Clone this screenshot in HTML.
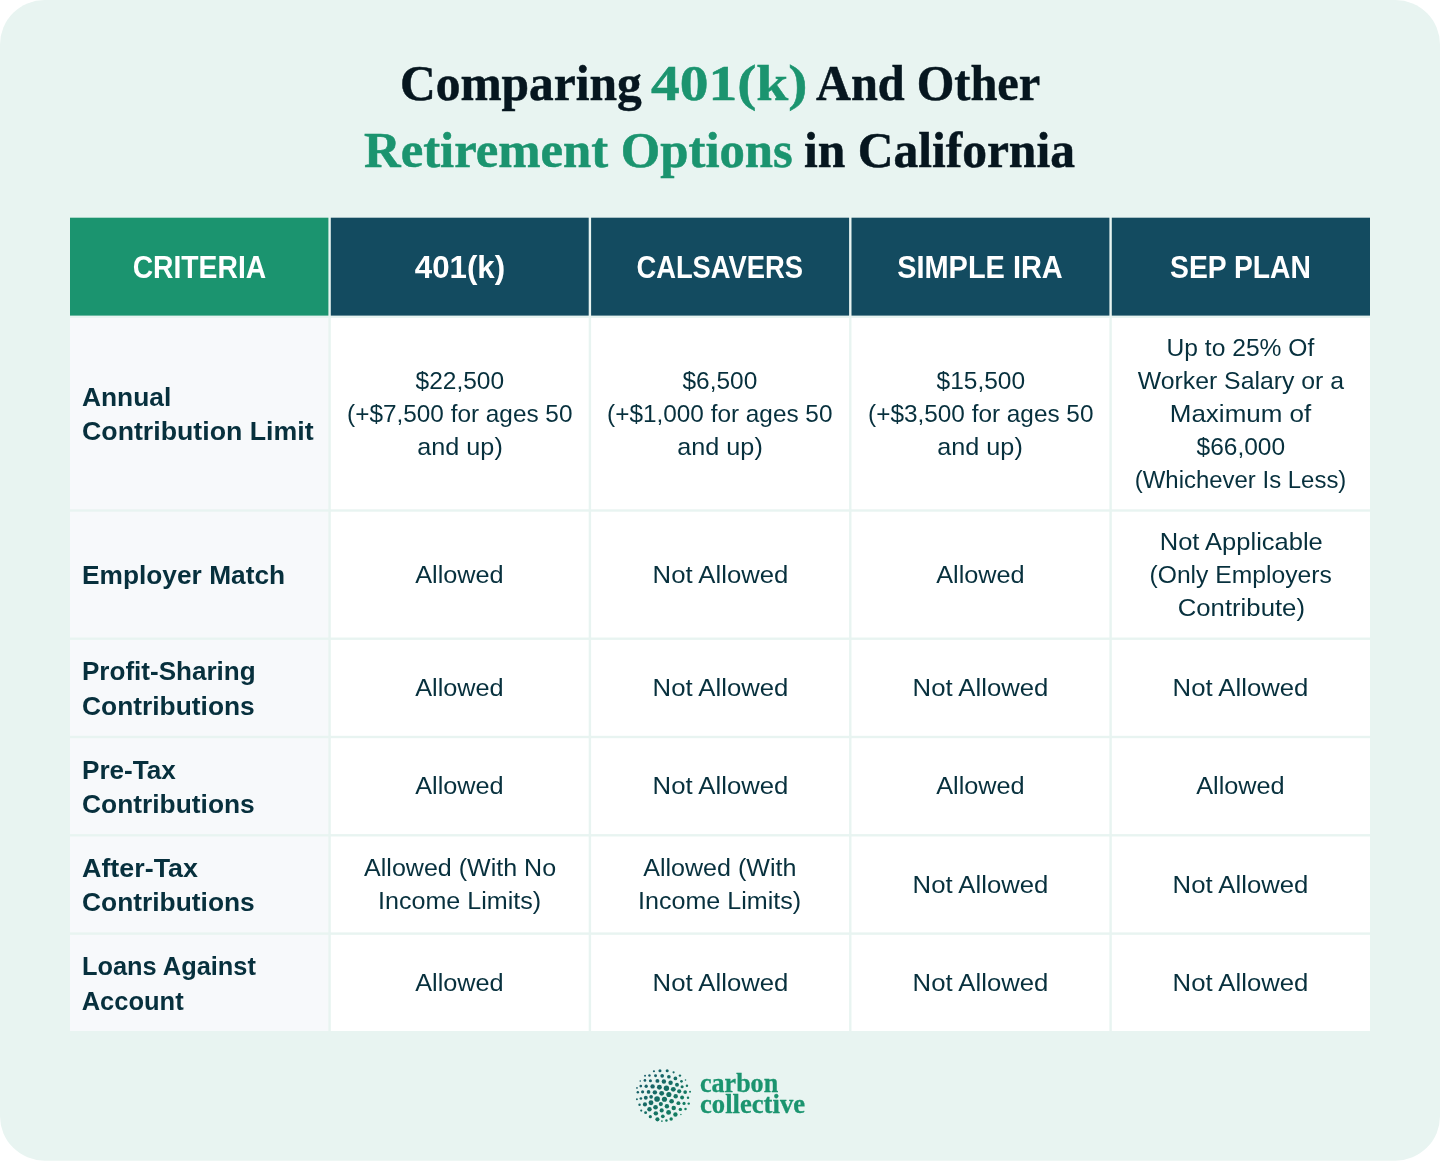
<!DOCTYPE html>
<html lang="en"><head><meta charset="utf-8">
<title>Comparing 401(k) And Other Retirement Options in California</title>
<style>
html,body{margin:0;padding:0;background:#fff}
body{width:1440px;height:1163px;overflow:hidden;position:relative;font-family:"Liberation Sans","DejaVu Sans",sans-serif}
.card{position:absolute;left:0;top:0;width:1440px;height:1163px;overflow:hidden}
svg.bg{position:absolute;left:0;top:0}
h1{position:absolute;left:0;top:0;width:1440px;margin:0;font-family:"Liberation Serif","DejaVu Serif",serif;font-weight:700;font-size:51px;color:#06161f;text-align:center;white-space:nowrap;-webkit-text-stroke:0.5px}
h1 .l{position:absolute;left:0;width:1440px;line-height:60px;height:60px;display:block;text-align:left}
h1 .g{color:#1b946f}
.cell{position:absolute;display:flex;flex-direction:column;justify-content:center;box-sizing:border-box}
.cell span,.logo span{display:block;position:relative;transform-origin:50% 50%}
h1 .s{position:absolute;top:0;display:block;transform-origin:0 50%;white-space:nowrap}
.th{color:#fff;font-weight:700;font-size:31.1px;line-height:40px;text-align:center;align-items:center;padding-top:3.3px}
.td{color:#07303d;font-size:24.8px;line-height:33px;text-align:center;align-items:center;white-space:nowrap;padding-top:0px}
.rh{color:#07303d;font-weight:700;font-size:25.5px;line-height:34.3px;padding-left:11.7px;padding-top:2.3px;white-space:nowrap;align-items:flex-start}
.rh span{transform-origin:0 50%}
.td span{top:-0.3px}
.th span{top:0px}
.rh span{top:-0.4px}
.logo{position:absolute;left:699.8px;top:1072.9px;font-family:"Liberation Serif","DejaVu Serif",serif;font-weight:700;font-size:27.5px;line-height:20.8px;color:#1b946f;white-space:nowrap;-webkit-text-stroke:0.3px}
.logo span{transform-origin:0 50%;width:max-content}
</style></head><body>
<div class="card">
<svg class="bg" width="1440" height="1163" viewBox="0 0 1440 1163">

<rect x="0" y="0" width="1440" height="1160.64" rx="44.5" ry="44.5" fill="#e8f4f1"/>
<rect x="70" y="217.7" width="258.4" height="97.9" fill="#1b946f"/>
<rect x="330.8" y="217.7" width="257.9" height="97.9" fill="#134b60"/>
<rect x="591.1" y="217.7" width="258" height="97.9" fill="#134b60"/>
<rect x="851.5" y="217.7" width="257.9" height="97.9" fill="#134b60"/>
<rect x="1111.8" y="217.7" width="258.2" height="97.9" fill="#134b60"/>
<rect x="70" y="318" width="258.4" height="191.3" fill="#f7f9fb"/>
<rect x="330.8" y="318" width="257.9" height="191.3" fill="#ffffff"/>
<rect x="591.1" y="318" width="258" height="191.3" fill="#ffffff"/>
<rect x="851.5" y="318" width="257.9" height="191.3" fill="#ffffff"/>
<rect x="1111.8" y="318" width="258.2" height="191.3" fill="#ffffff"/>
<rect x="70" y="511.7" width="258.4" height="125.8" fill="#f7f9fb"/>
<rect x="330.8" y="511.7" width="257.9" height="125.8" fill="#ffffff"/>
<rect x="591.1" y="511.7" width="258" height="125.8" fill="#ffffff"/>
<rect x="851.5" y="511.7" width="257.9" height="125.8" fill="#ffffff"/>
<rect x="1111.8" y="511.7" width="258.2" height="125.8" fill="#ffffff"/>
<rect x="70" y="639.9" width="258.4" height="95.9" fill="#f7f9fb"/>
<rect x="330.8" y="639.9" width="257.9" height="95.9" fill="#ffffff"/>
<rect x="591.1" y="639.9" width="258" height="95.9" fill="#ffffff"/>
<rect x="851.5" y="639.9" width="257.9" height="95.9" fill="#ffffff"/>
<rect x="1111.8" y="639.9" width="258.2" height="95.9" fill="#ffffff"/>
<rect x="70" y="738.2" width="258.4" height="95.9" fill="#f7f9fb"/>
<rect x="330.8" y="738.2" width="257.9" height="95.9" fill="#ffffff"/>
<rect x="591.1" y="738.2" width="258" height="95.9" fill="#ffffff"/>
<rect x="851.5" y="738.2" width="257.9" height="95.9" fill="#ffffff"/>
<rect x="1111.8" y="738.2" width="258.2" height="95.9" fill="#ffffff"/>
<rect x="70" y="836.5" width="258.4" height="95.9" fill="#f7f9fb"/>
<rect x="330.8" y="836.5" width="257.9" height="95.9" fill="#ffffff"/>
<rect x="591.1" y="836.5" width="258" height="95.9" fill="#ffffff"/>
<rect x="851.5" y="836.5" width="257.9" height="95.9" fill="#ffffff"/>
<rect x="1111.8" y="836.5" width="258.2" height="95.9" fill="#ffffff"/>
<rect x="70" y="934.8" width="258.4" height="96.2" fill="#f7f9fb"/>
<rect x="330.8" y="934.8" width="257.9" height="96.2" fill="#ffffff"/>
<rect x="591.1" y="934.8" width="258" height="96.2" fill="#ffffff"/>
<rect x="851.5" y="934.8" width="257.9" height="96.2" fill="#ffffff"/>
<rect x="1111.8" y="934.8" width="258.2" height="96.2" fill="#ffffff"/>
<defs><linearGradient id="lg" gradientUnits="userSpaceOnUse" x1="640" y1="1072" x2="688" y2="1118"><stop offset="0" stop-color="#19586a"/><stop offset="1" stop-color="#12855f"/></linearGradient></defs><g fill="url(#lg)"><circle cx="653.95" cy="1071.25" r="1.1"/>
<circle cx="659.97" cy="1070.68" r="1.53"/>
<circle cx="667.18" cy="1070.68" r="1.53"/>
<circle cx="673.59" cy="1072.33" r="1.1"/>
<circle cx="645.04" cy="1075.79" r="0.98"/>
<circle cx="649.47" cy="1075.51" r="1.23"/>
<circle cx="655.54" cy="1075.79" r="1.47"/>
<circle cx="662.18" cy="1075.79" r="1.84"/>
<circle cx="668.88" cy="1076.76" r="1.84"/>
<circle cx="675.41" cy="1078.46" r="1.84"/>
<circle cx="679.95" cy="1075.62" r="1.23"/>
<circle cx="640.22" cy="1081.02" r="0.8"/>
<circle cx="644.93" cy="1080.45" r="1.35"/>
<circle cx="650.43" cy="1080.73" r="1.53"/>
<circle cx="657.42" cy="1080.9" r="1.96"/>
<circle cx="663.89" cy="1081.58" r="2.21"/>
<circle cx="670.58" cy="1082.72" r="2.21"/>
<circle cx="677" cy="1084.7" r="1.96"/>
<circle cx="681.48" cy="1081.3" r="1.35"/>
<circle cx="685.51" cy="1080.05" r="0.8"/>
<circle cx="636.98" cy="1087.94" r="0.86"/>
<circle cx="640.78" cy="1086.12" r="1.35"/>
<circle cx="646.18" cy="1086.24" r="1.66"/>
<circle cx="652.59" cy="1086.41" r="2.21"/>
<circle cx="659.4" cy="1087.26" r="2.45"/>
<circle cx="666.44" cy="1088.22" r="2.7"/>
<circle cx="673.31" cy="1089.36" r="2.45"/>
<circle cx="682.11" cy="1086.69" r="1.53"/>
<circle cx="686.93" cy="1085.84" r="1.23"/>
<circle cx="637.83" cy="1092.25" r="1.23"/>
<circle cx="642.6" cy="1091.8" r="1.59"/>
<circle cx="648.56" cy="1091.91" r="1.84"/>
<circle cx="654.86" cy="1092.37" r="2.21"/>
<circle cx="661.67" cy="1093.33" r="2.45"/>
<circle cx="668.88" cy="1094.47" r="2.57"/>
<circle cx="679.21" cy="1091.35" r="2.08"/>
<circle cx="685.17" cy="1092.08" r="1.84"/>
<circle cx="690.05" cy="1091.8" r="0.98"/>
<circle cx="636.92" cy="1099.35" r="0.98"/>
<circle cx="640.9" cy="1098.5" r="1.35"/>
<circle cx="645.78" cy="1097.76" r="1.96"/>
<circle cx="651.12" cy="1096.79" r="1.84"/>
<circle cx="657.08" cy="1099.01" r="2.82"/>
<circle cx="664.45" cy="1099.29" r="2.57"/>
<circle cx="675.69" cy="1096.23" r="2.21"/>
<circle cx="682.11" cy="1097.48" r="1.96"/>
<circle cx="688.01" cy="1097.76" r="1.23"/>
<circle cx="639.54" cy="1104.68" r="1.23"/>
<circle cx="644.93" cy="1104.4" r="2.08"/>
<circle cx="651" cy="1102.75" r="2.45"/>
<circle cx="660.82" cy="1104.12" r="2.08"/>
<circle cx="671.61" cy="1101.28" r="2.33"/>
<circle cx="678.42" cy="1103.15" r="1.96"/>
<circle cx="684.04" cy="1103.44" r="1.59"/>
<circle cx="688.75" cy="1103.61" r="1.23"/>
<circle cx="641.24" cy="1110.53" r="1.1"/>
<circle cx="649.47" cy="1109.23" r="2.21"/>
<circle cx="655.54" cy="1107.24" r="2.33"/>
<circle cx="661.67" cy="1110.42" r="2.08"/>
<circle cx="666.89" cy="1106.27" r="2.21"/>
<circle cx="673.71" cy="1107.98" r="2.21"/>
<circle cx="680.35" cy="1109.4" r="1.72"/>
<circle cx="685.51" cy="1108.94" r="1.23"/>
<circle cx="645.61" cy="1112.63" r="1.47"/>
<circle cx="655.83" cy="1113.37" r="2.21"/>
<circle cx="668.6" cy="1112.4" r="2.45"/>
<circle cx="675.41" cy="1114.5" r="2.21"/>
<circle cx="680.91" cy="1114.39" r="0.74"/>
<circle cx="650.32" cy="1116.66" r="1.59"/>
<circle cx="662.81" cy="1116.32" r="1.84"/>
<circle cx="657.42" cy="1119.33" r="2.08"/>
<circle cx="671.15" cy="1119.05" r="1.72"/>
<circle cx="666.44" cy="1120.46" r="1.23"/>
<circle cx="661.9" cy="1121.03" r="0.86"/></g>
</svg>
<h1><span class="l" style="top:52.7px"><span class="s" style="left:400.05px;transform:scaleX(0.9694)">Comparing</span> <span class="s g" style="left:650.94px;transform:scaleX(1.1270)">401(k)</span> <span class="s" style="left:816.19px;transform:scaleX(0.9479)">And Other</span></span><span class="l" style="top:119.6px"><span class="s g" style="left:364.4px;transform:scaleX(0.9947)">Retirement Options</span> <span class="s" style="left:804px;transform:scaleX(0.9706)">in California</span></span></h1>
<div class="cell th" style="left:70px;top:217.7px;width:258.4px;height:97.9px"><span style="transform:scaleX(0.9089)">CRITERIA</span></div>
<div class="cell th" style="left:330.8px;top:217.7px;width:257.9px;height:97.9px"><span style="transform:scaleX(1.0057)">401(k)</span></div>
<div class="cell th" style="left:591.1px;top:217.7px;width:258px;height:97.9px"><span style="transform:scaleX(0.8794)">CALSAVERS</span></div>
<div class="cell th" style="left:851.5px;top:217.7px;width:257.9px;height:97.9px"><span style="transform:scaleX(0.9304)">SIMPLE IRA</span></div>
<div class="cell th" style="left:1111.8px;top:217.7px;width:258.2px;height:97.9px"><span style="transform:scaleX(0.9090)">SEP PLAN</span></div>
<div class="cell rh" style="left:70px;top:318px;width:258.4px;height:191.3px"><span style="transform:scaleX(1.0331)">Annual</span> <span style="transform:scaleX(1.0482)">Contribution Limit</span></div>
<div class="cell td" style="left:330.8px;top:318px;width:257.9px;height:191.3px"><span style="transform:scaleX(0.9878)">$22,500</span> <span style="transform:scaleX(0.9818)">(+$7,500 for ages 50</span> <span style="transform:scaleX(1.0160)">and up)</span></div>
<div class="cell td" style="left:591.1px;top:318px;width:258px;height:191.3px"><span style="transform:scaleX(0.9866)">$6,500</span> <span style="transform:scaleX(0.9818)">(+$1,000 for ages 50</span> <span style="transform:scaleX(1.0160)">and up)</span></div>
<div class="cell td" style="left:851.5px;top:318px;width:257.9px;height:191.3px"><span style="transform:scaleX(0.9878)">$15,500</span> <span style="transform:scaleX(0.9818)">(+$3,500 for ages 50</span> <span style="transform:scaleX(1.0160)">and up)</span></div>
<div class="cell td" style="left:1111.8px;top:318px;width:258.2px;height:191.3px"><span style="transform:scaleX(0.9936)">Up to 25% Of</span> <span>Worker Salary or a</span> <span style="transform:scaleX(1.0476)">Maximum of</span> <span style="transform:scaleX(0.9878)">$66,000</span> <span style="transform:scaleX(0.9656)">(Whichever Is Less)</span></div>
<div class="cell rh" style="left:70px;top:511.7px;width:258.4px;height:125.8px"><span style="transform:scaleX(1.0313)">Employer Match</span></div>
<div class="cell td" style="left:330.8px;top:511.7px;width:257.9px;height:125.8px"><span style="transform:scaleX(1.0191)">Allowed</span></div>
<div class="cell td" style="left:591.1px;top:511.7px;width:258px;height:125.8px"><span style="transform:scaleX(1.0370)">Not Allowed</span></div>
<div class="cell td" style="left:851.5px;top:511.7px;width:257.9px;height:125.8px"><span style="transform:scaleX(1.0191)">Allowed</span></div>
<div class="cell td" style="left:1111.8px;top:511.7px;width:258.2px;height:125.8px"><span style="transform:scaleX(1.0283)">Not Applicable</span> <span style="transform:scaleX(0.9945)">(Only Employers</span> <span style="transform:scaleX(1.0371)">Contribute)</span></div>
<div class="cell rh" style="left:70px;top:639.9px;width:258.4px;height:95.9px"><span style="transform:scaleX(1.0210)">Profit-Sharing</span> <span style="transform:scaleX(1.0336)">Contributions</span></div>
<div class="cell td" style="left:330.8px;top:639.9px;width:257.9px;height:95.9px"><span style="transform:scaleX(1.0191)">Allowed</span></div>
<div class="cell td" style="left:591.1px;top:639.9px;width:258px;height:95.9px"><span style="transform:scaleX(1.0370)">Not Allowed</span></div>
<div class="cell td" style="left:851.5px;top:639.9px;width:257.9px;height:95.9px"><span style="transform:scaleX(1.0370)">Not Allowed</span></div>
<div class="cell td" style="left:1111.8px;top:639.9px;width:258.2px;height:95.9px"><span style="transform:scaleX(1.0370)">Not Allowed</span></div>
<div class="cell rh" style="left:70px;top:738.2px;width:258.4px;height:95.9px"><span style="transform:scaleX(1.0245)">Pre-Tax</span> <span style="transform:scaleX(1.0336)">Contributions</span></div>
<div class="cell td" style="left:330.8px;top:738.2px;width:257.9px;height:95.9px"><span style="transform:scaleX(1.0191)">Allowed</span></div>
<div class="cell td" style="left:591.1px;top:738.2px;width:258px;height:95.9px"><span style="transform:scaleX(1.0370)">Not Allowed</span></div>
<div class="cell td" style="left:851.5px;top:738.2px;width:257.9px;height:95.9px"><span style="transform:scaleX(1.0191)">Allowed</span></div>
<div class="cell td" style="left:1111.8px;top:738.2px;width:258.2px;height:95.9px"><span style="transform:scaleX(1.0191)">Allowed</span></div>
<div class="cell rh" style="left:70px;top:836.5px;width:258.4px;height:95.9px"><span style="transform:scaleX(1.0540)">After-Tax</span> <span style="transform:scaleX(1.0336)">Contributions</span></div>
<div class="cell td" style="left:330.8px;top:836.5px;width:257.9px;height:95.9px"><span style="transform:scaleX(1.0099)">Allowed (With No</span> <span style="transform:scaleX(1.0124)">Income Limits)</span></div>
<div class="cell td" style="left:591.1px;top:836.5px;width:258px;height:95.9px"><span style="transform:scaleX(1.0112)">Allowed (With</span> <span style="transform:scaleX(1.0124)">Income Limits)</span></div>
<div class="cell td" style="left:851.5px;top:836.5px;width:257.9px;height:95.9px"><span style="transform:scaleX(1.0370)">Not Allowed</span></div>
<div class="cell td" style="left:1111.8px;top:836.5px;width:258.2px;height:95.9px"><span style="transform:scaleX(1.0370)">Not Allowed</span></div>
<div class="cell rh" style="left:70px;top:934.8px;width:258.4px;height:96.2px"><span style="transform:scaleX(0.9950)">Loans Against</span> <span>Account</span></div>
<div class="cell td" style="left:330.8px;top:934.8px;width:257.9px;height:96.2px"><span style="transform:scaleX(1.0191)">Allowed</span></div>
<div class="cell td" style="left:591.1px;top:934.8px;width:258px;height:96.2px"><span style="transform:scaleX(1.0370)">Not Allowed</span></div>
<div class="cell td" style="left:851.5px;top:934.8px;width:257.9px;height:96.2px"><span style="transform:scaleX(1.0370)">Not Allowed</span></div>
<div class="cell td" style="left:1111.8px;top:934.8px;width:258.2px;height:96.2px"><span style="transform:scaleX(1.0370)">Not Allowed</span></div>
<div class="logo"><span style="transform:scaleX(0.9470)">carbon</span> <span style="transform:scaleX(0.9690)">collective</span></div>
</div></body></html>
